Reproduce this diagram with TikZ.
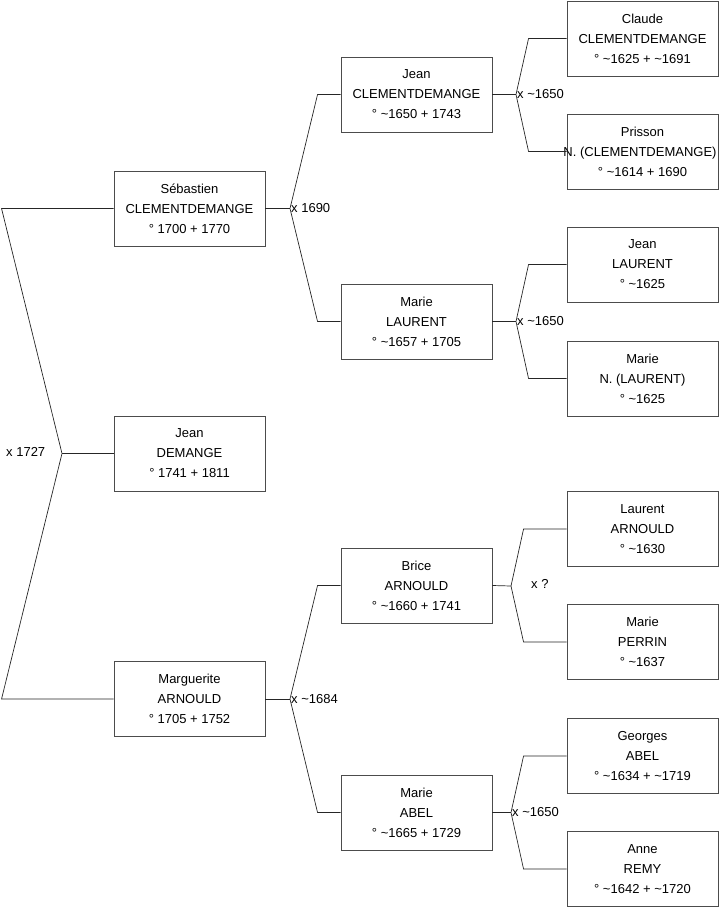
\documentclass[tikz,border=0pt]{standalone}
\usepackage{fontspec}
\setmainfont{Liberation Sans}
\begin{document}
\begin{tikzpicture}[x=1pt,y=-1pt,
  person/.style={draw=black!70, line width=0.9pt, minimum width=151pt, minimum height=75pt, inner sep=0pt, align=center, font=\fontsize{13}{20}\selectfont},
  link/.style={draw=black!85, line width=0.7pt},
  union/.style={anchor=west, inner sep=1pt, font=\fontsize{13}{15}\selectfont}]
\useasboundingbox (0,0) rectangle (719,908);
% generation 1
\node[person] (seb) at (189.5,208.5) {Sébastien\\CLEMENTDEMANGE\\° 1700 + 1770};
\node[person] (jd) at (189.5,453.5) {Jean\\DEMANGE\\° 1741 + 1811};
\node[person] (marg) at (189.5,699) {Marguerite\\ARNOULD\\° 1705 + 1752};
% generation 2
\node[person] (jc) at (416.5,94.5) {Jean\\CLEMENTDEMANGE\\° \textasciitilde 1650 + 1743};
\node[person] (ml) at (416.5,321.5) {Marie\\LAURENT\\° \textasciitilde 1657 + 1705};
\node[person] (ba) at (416.5,585.5) {Brice\\ARNOULD\\° \textasciitilde 1660 + 1741};
\node[person] (ma) at (416.5,812.5) {Marie\\ABEL\\° \textasciitilde 1665 + 1729};
% generation 3
\node[person] (cc) at (642.5,38.5) {Claude\\CLEMENTDEMANGE\\° \textasciitilde 1625 + \textasciitilde 1691};
\node[person] (pn) at (642.5,151.5) {Prisson\\\makebox[140pt]{\hspace*{-5pt}N. (CLEMENTDEMANGE)}\\° \textasciitilde 1614 + 1690};
\node[person] (jl) at (642.5,264.5) {Jean\\LAURENT\\° \textasciitilde 1625};
\node[person] (mn) at (642.5,378.5) {Marie\\N. (LAURENT)\\° \textasciitilde 1625};
\node[person] (la) at (642.5,529) {Laurent\\ARNOULD\\° \textasciitilde 1630};
\node[person] (mp) at (642.5,642) {Marie\\PERRIN\\° \textasciitilde 1637};
\node[person] (ga) at (642.5,756) {Georges\\ABEL\\° \textasciitilde 1634 + \textasciitilde 1719};
\node[person] (ar) at (642.5,869) {Anne\\REMY\\° \textasciitilde 1642 + \textasciitilde 1720};
% root union
\coordinate (u0) at (62,453.5);
\draw[link] (seb.west) -- ++(-112,0) -- (u0) -- ([xshift=-112pt]marg.west) -- (marg.west);
\draw[link] (u0) -- (jd.west);
\node[union] (l0) at (5,452) {x 1727};
% Sebastien union
\coordinate (u1) at (290,208.5);
\draw[link] (seb.east) -- (u1);
\draw[link] (jc.west) -- ++(-23,0) -- (u1) -- ([xshift=-23pt]ml.west) -- (ml.west);
\node[union] (l1) at (u1) {x 1690};
% Marguerite union
\coordinate (u2) at (290,699);
\draw[link] (marg.east) -- (u2);
\draw[link] (ba.west) -- ++(-23,0) -- (u2) -- ([xshift=-23pt]ma.west) -- (ma.west);
\node[union] (l2) at (u2) {x \textasciitilde 1684};
% Jean C union
\coordinate (u3) at (516,94.5);
\draw[link] (jc.east) -- (u3);
\draw[link] (cc.west) -- ++(-38,0) -- (u3) -- ([xshift=-38pt]pn.west) -- (pn.west);
\node[union] (l3) at (u3) {x \textasciitilde 1650};
% Marie Laurent union
\coordinate (u4) at (516,321.5);
\draw[link] (ml.east) -- (u4);
\draw[link] (jl.west) -- ++(-38,0) -- (u4) -- ([xshift=-38pt]mn.west) -- (mn.west);
\node[union] (l4) at (u4) {x \textasciitilde 1650};
% Brice union
\coordinate (u5) at (511,586);
\draw[link] (ba.east) -- (u5);
\draw[link] (la.west) -- ++(-43,0) -- (u5) -- ([xshift=-43pt]mp.west) -- (mp.west);
\node[union] (l5) at (530,584) {x ?};
% Marie Abel union
\coordinate (u6) at (511,812.5);
\draw[link] (ma.east) -- (u6);
\draw[link] (ga.west) -- ++(-43,0) -- (u6) -- ([xshift=-43pt]ar.west) -- (ar.west);
\node[union] (l6) at (u6) {x \textasciitilde 1650};
\end{tikzpicture}
\end{document}
